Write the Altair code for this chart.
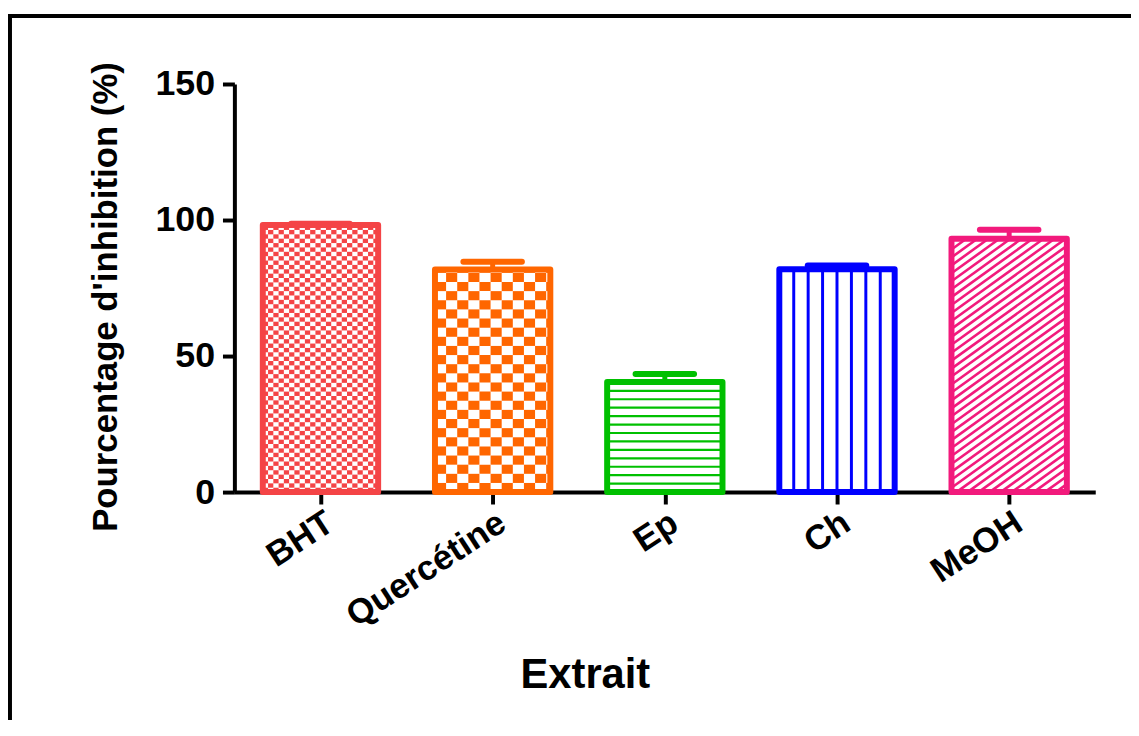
import math
import altair as alt
import pandas as pd

# ---------------- data ----------------
categories = ["BHT", "Quercétine", "Ep", "Ch", "MeOH"]
means = [98.2, 81.8, 40.5, 81.9, 93.1]
errors = [0.4, 2.9, 2.9, 1.4, 3.3]
colors = ["#F44446", "#FF6600", "#00C000", "#0000FF", "#F21A7C"]
patterns = ["checker_small", "checker_large", "hlines", "vlines", "diagonal"]
y_ticks = [0, 50, 100, 150]

# ---------------- layout ----------------
W, H = 867, 411
YMAX = 150
N = len(categories)
PX = W / N          # pixels per x unit
PY = H / YMAX       # pixels per y unit
HALF = 0.335        # half bar width (x units)
CAP = 0.17          # half cap width (x units)
FONT = "Liberation Sans"

bars = pd.DataFrame({
    "cat": categories,
    "pos": [i + 0.5 for i in range(N)],
    "mean": means,
    "top": [m + e for m, e in zip(means, errors)],
})
bars["left"] = bars["pos"] - HALF
bars["right"] = bars["pos"] + HALF
bars["capl"] = bars["pos"] - CAP
bars["capr"] = bars["pos"] + CAP

# ---------------- fill patterns (decoration inside each bar) ----------------
rects, segs = [], []
for i, (cat, v, pat) in enumerate(zip(categories, means, patterns)):
    x0, x1 = i + 0.5 - HALF, i + 0.5 + HALF
    if pat.startswith("checker"):
        cw, ch = (5.3, 4.4) if pat == "checker_small" else (11.2, 9.2)
        wu, hu = cw / PX, ch / PY
        ncol = math.ceil((x1 - x0) / wu)
        nrow = math.ceil(v / hu)
        for r in range(nrow):
            for c in range(ncol):
                if (r + c) % 2 == 0:
                    rects.append({"cat": cat,
                                  "x": x0 + c * wu, "x2": min(x0 + (c + 1) * wu, x1),
                                  "y": r * hu, "y2": min((r + 1) * hu, v)})
    elif pat == "hlines":
        dy = 8.5 / PY
        k = 1
        while k * dy < v:
            segs.append({"cat": cat, "x": x0, "x2": x1, "y": k * dy, "y2": k * dy, "sw": 2.2})
            k += 1
    elif pat == "vlines":
        dx = (x1 - x0) / 8
        for k in range(1, 8):
            segs.append({"cat": cat, "x": x0 + k * dx, "x2": x0 + k * dx, "y": 0, "y2": v, "sw": 3})
    elif pat == "diagonal":
        Wp, Hp = (x1 - x0) * PX, v * PY
        s, step = 0.72, 8.0
        c = -s * Wp
        while c < Hp:
            us = max(0.0, -c / s)
            ue = min(Wp, (Hp - c) / s)
            if ue > us:
                segs.append({"cat": cat,
                             "x": x0 + us / PX, "x2": x0 + ue / PX,
                             "y": (s * us + c) / PY, "y2": (s * ue + c) / PY, "sw": 2.6})
            c += step
rects = pd.DataFrame(rects)
segs = pd.DataFrame(segs)

# ---------------- encodings ----------------
label_array = "[" + ",".join("'" + c + "'" for c in categories) + "]"
xscale = alt.Scale(domain=[0, N], nice=False, zero=False)
yscale = alt.Scale(domain=[0, YMAX], nice=False, zero=True)
col = alt.Scale(domain=categories, range=colors)

x_axis = alt.Axis(
    values=list(bars["pos"]), labelExpr=label_array + "[floor(datum.value)]",
    title="Extrait", grid=False, domainColor="black", domainWidth=4,
    tickColor="black", tickWidth=4, tickSize=12,
    labelFont=FONT, labelFontWeight="bold", labelFontSize=35, labelColor="black",
    labelAngle=-33, labelAlign="right", labelBaseline="top", labelPadding=1,
    labelLimit=0, labelOverlap=False,
    titleFont=FONT, titleFontWeight="bold", titleFontSize=42, titleColor="black",
    titleX=353, titleY=184, titleAlign="center", titleBaseline="middle",
)
y_axis = alt.Axis(
    values=y_ticks, title="Pourcentage d'inhibition (%)", grid=False,
    domainColor="black", domainWidth=4, tickColor="black", tickWidth=4, tickSize=12,
    labelFont=FONT, labelFontWeight="bold", labelFontSize=36, labelColor="black",
    labelPadding=8,
    titleFont=FONT, titleFontWeight="bold", titleFontSize=35, titleColor="black",
    titleX=-130, titleY=214, titleAlign="center", titleBaseline="middle", titleAngle=-90,
)

frame = alt.Chart(pd.DataFrame({"f": [0]})).mark_rect(
    fillOpacity=0, stroke="black", strokeWidth=4
).encode(x=alt.value(-226), x2=alt.value(1400), y=alt.value(-68.5), y2=alt.value(1200))

checks = alt.Chart(rects).mark_rect().encode(
    x=alt.X("x:Q", scale=xscale, axis=x_axis), x2="x2:Q",
    y=alt.Y("y:Q", scale=yscale, axis=y_axis), y2="y2:Q",
    color=alt.Color("cat:N", scale=col, legend=None),
)

lines = alt.Chart(segs).mark_rule().encode(
    x=alt.X("x:Q", scale=xscale, axis=x_axis), x2="x2:Q",
    y=alt.Y("y:Q", scale=yscale, axis=y_axis), y2="y2:Q",
    color=alt.Color("cat:N", scale=col, legend=None),
    strokeWidth=alt.StrokeWidth("sw:Q", scale=None, legend=None),
)

outline = alt.Chart(bars).mark_bar(
    fillOpacity=0, strokeWidth=6, strokeJoin="round"
).encode(
    x=alt.X("left:Q", scale=xscale, axis=x_axis), x2="right:Q",
    y=alt.Y("mean:Q", scale=yscale, axis=y_axis), y2=alt.datum(0),
    stroke=alt.Stroke("cat:N", scale=col, legend=None),
)

stems = alt.Chart(bars).mark_rule(strokeWidth=5).encode(
    x=alt.X("pos:Q", scale=xscale, axis=x_axis),
    y=alt.Y("mean:Q", scale=yscale, axis=y_axis), y2="top:Q",
    color=alt.Color("cat:N", scale=col, legend=None),
)

caps = alt.Chart(bars).mark_rule(strokeWidth=6, strokeCap="round").encode(
    x=alt.X("capl:Q", scale=xscale, axis=x_axis), x2="capr:Q",
    y=alt.Y("top:Q", scale=yscale, axis=y_axis),
    color=alt.Color("cat:N", scale=col, legend=None),
)

chart = alt.layer(frame, checks, lines, outline, stems, caps).properties(
    width=W, height=H,
    padding={"left": 228, "top": 74, "right": 36, "bottom": 227},
    autosize=alt.AutoSizeParams(type="none"),
    background="white",
).configure_view(strokeWidth=0)

chart.save("out.html", embed_options={"renderer": "svg", "actions": False})
